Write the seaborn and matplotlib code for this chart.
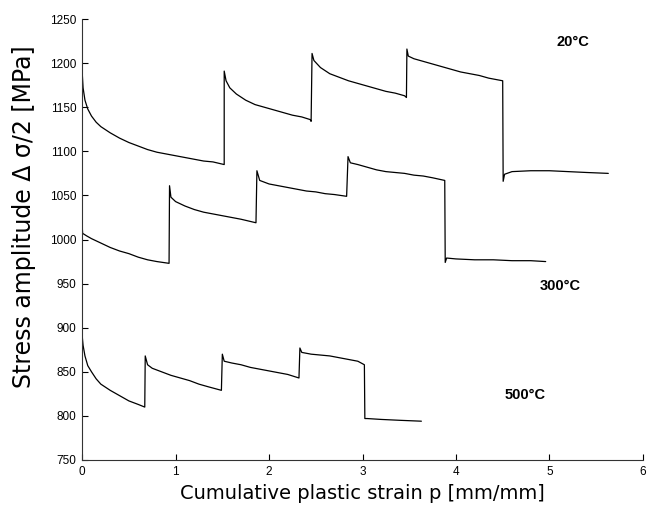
import matplotlib
matplotlib.use("Agg")
import matplotlib.pyplot as plt
import seaborn as sns
import pandas as pd

# values (cumulative plastic strain, stress amplitude)
x_20 = [0, 0.01, 0.03, 0.06, 0.1, 0.15, 0.2, 0.3, 0.4, 0.5, 0.6, 0.7, 0.8, 0.9, 1.0, 1.1, 1.2, 1.3, 1.4, 1.52,
        1.52, 1.54, 1.58, 1.65, 1.75, 1.85, 1.95, 2.05, 2.15, 2.25, 2.35, 2.44, 2.45,
        2.46, 2.48, 2.55, 2.65, 2.75, 2.85, 2.95, 3.05, 3.15, 3.25, 3.35, 3.45, 3.47,
        3.475, 3.49, 3.55, 3.65, 3.75, 3.85, 3.95, 4.05, 4.15, 4.25, 4.35, 4.45, 4.50,
        4.505, 4.52, 4.6, 4.8, 5.0, 5.2, 5.4, 5.63]
y_20 = [1190, 1172, 1158, 1148, 1140, 1133, 1128, 1121, 1115, 1110, 1106, 1102, 1099, 1097, 1095, 1093, 1091, 1089, 1088, 1085,
        1191, 1180, 1172, 1165, 1158, 1153, 1150, 1147, 1144, 1141, 1139, 1136, 1134,
        1211, 1203, 1195, 1188, 1184, 1180, 1177, 1174, 1171, 1168, 1166, 1163, 1161,
        1216, 1208, 1205, 1202, 1199, 1196, 1193, 1190, 1188, 1186, 1183, 1181, 1180,
        1066, 1074, 1077, 1078, 1078, 1077, 1076, 1075]

x_300 = [0, 0.005, 0.05, 0.1, 0.2, 0.3, 0.4, 0.5, 0.6, 0.7, 0.8, 0.93,
         0.935, 0.95, 1.0, 1.1, 1.2, 1.3, 1.4, 1.5, 1.6, 1.7, 1.86,
         1.87, 1.9, 2.0, 2.1, 2.2, 2.3, 2.4, 2.5, 2.6, 2.7, 2.83,
         2.845, 2.87, 2.95, 3.05, 3.15, 3.25, 3.35, 3.45, 3.55, 3.65, 3.75, 3.88,
         3.885, 3.9, 4.0, 4.2, 4.4, 4.6, 4.8, 4.96]
y_300 = [1016, 1007, 1004, 1001, 996, 991, 987, 984, 980, 977, 975, 973,
         1061, 1048, 1043, 1038, 1034, 1031, 1029, 1027, 1025, 1023, 1019,
         1078, 1067, 1063, 1061, 1059, 1057, 1055, 1054, 1052, 1051, 1049,
         1094, 1087, 1085, 1082, 1079, 1077, 1076, 1075, 1073, 1072, 1070, 1067,
         974, 979, 978, 977, 977, 976, 976, 975]

x_500 = [0, 0.01, 0.03, 0.06, 0.1, 0.15, 0.2, 0.3, 0.4, 0.5, 0.6, 0.67,
         0.675, 0.7, 0.75, 0.85, 0.95, 1.05, 1.15, 1.25, 1.35, 1.49,
         1.50, 1.52, 1.6, 1.7, 1.8, 1.9, 2.0, 2.1, 2.2, 2.32,
         2.33, 2.35, 2.45, 2.55, 2.65, 2.75, 2.85, 2.95, 3.02,
         3.025, 3.05, 3.2, 3.4, 3.63]
y_500 = [891, 880, 868, 857, 850, 842, 836, 829, 823, 817, 813, 810,
         868, 858, 854, 850, 846, 843, 840, 836, 833, 829,
         870, 862, 860, 858, 855, 853, 851, 849, 847, 843,
         877, 872, 870, 869, 868, 866, 864, 862, 858,
         797, 797, 796, 795, 794]

labels = ["20°C", "300°C", "500°C"]
label_x = [5.25, 5.12, 4.74]
label_y = [1224, 947, 824]

sns.set_style("ticks")
plt.rcParams["font.family"] = ["Liberation Sans", "DejaVu Sans"]
plt.rcParams["xtick.direction"] = "in"
plt.rcParams["ytick.direction"] = "in"
plt.rcParams["text.color"] = "black"
plt.rcParams["axes.labelcolor"] = "black"

fig = plt.figure(figsize=(6.52, 5.08), dpi=100)
ax = fig.add_axes([0.126, 0.0945, 0.86, 0.868])

for xs, ys in [(x_20, y_20), (x_300, y_300), (x_500, y_500)]:
    df = pd.DataFrame({"p": xs, "s": ys})
    sns.lineplot(data=df, x="p", y="s", sort=False, estimator=None,
                 color="black", linewidth=0.9, ax=ax)

for t, lx, ly in zip(labels, label_x, label_y):
    ax.text(lx, ly, t, ha="center", va="center", fontsize=10.5,
            fontweight="bold", color="black")

ax.set_xlim(0, 6)
ax.set_ylim(750, 1250)
ax.set_xticks(range(0, 7))
ax.set_yticks(range(750, 1251, 50))
ax.tick_params(labelsize=8.5, length=4, width=0.8, colors="black", pad=4,
               bottom=True, left=True)
sns.despine(ax=ax)
for sp in ["left", "bottom"]:
    ax.spines[sp].set_color("#333333")
    ax.spines[sp].set_linewidth(0.8)
ax.set_xlabel("Cumulative plastic strain p [mm/mm]", fontsize=14,
              fontfamily="DejaVu Sans", va="center", color="black")
ax.set_ylabel("Stress amplitude Δ σ/2 [MPa]", fontsize=17,
              fontfamily="DejaVu Sans", va="center", color="black")
ax.xaxis.set_label_coords(0.5, -0.075)
ax.yaxis.set_label_coords(-0.103, 0.551)

fig.savefig("out.png", dpi=100)
